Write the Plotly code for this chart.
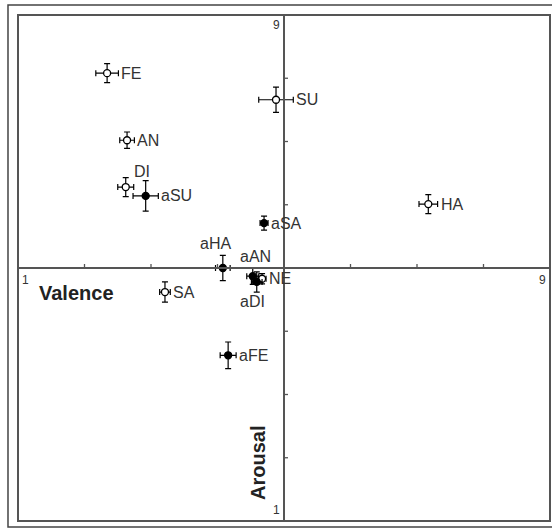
import plotly.graph_objects as go

# ---- data ----
names   = ['FE', 'SU', 'AN', 'DI', 'aSU', 'HA', 'aSA', 'aHA', 'aAN', 'NE', 'aDI', 'SA', 'aFE']
valence = [2.34, 4.88, 2.64, 2.62, 2.92, 7.17, 4.70, 4.08, 4.53, 4.67, 4.59, 3.21, 4.16]
arousal = [8.08, 7.66, 7.02, 6.28, 6.14, 6.01, 5.71, 5.00, 4.87, 4.83, 4.78, 4.62, 3.62]
err_val = [0.17, 0.26, 0.11, 0.12, 0.19, 0.14, 0.06, 0.11, 0.09, 0.06, 0.08, 0.08, 0.12]
err_aro = [0.15, 0.20, 0.13, 0.15, 0.24, 0.15, 0.11, 0.20, 0.13, 0.08, 0.16, 0.16, 0.21]
filled  = [False, False, False, False, True, False, True, True, True, False, True, False, True]
ticks   = [2, 3, 4, 6, 7, 8]

# label placement (style): default = to the right of the error bar
label_offsets = {'DI': (16, 16), 'aHA': (-7, 25), 'aAN': (3, 20), 'aDI': (-4, -20)}

FONT = 'Liberation Sans, Arial, sans-serif'
AX = '#555555'

fig = go.Figure()
for fill_flag in (False, True):
    idx = [i for i, f in enumerate(filled) if f == fill_flag]
    fig.add_trace(go.Scatter(
        x=[valence[i] for i in idx], y=[arousal[i] for i in idx],
        mode='markers',
        marker=dict(symbol='circle', size=7,
                    color='black' if fill_flag else 'white',
                    line=dict(color='black', width=1.3)),
        error_x=dict(type='data', array=[err_val[i] for i in idx], color='black',
                     thickness=1.2, width=3),
        error_y=dict(type='data', array=[err_aro[i] for i in idx], color='black',
                     thickness=1.2, width=3),
        showlegend=False, hoverinfo='skip'))

annotations = []
for i, n in enumerate(names):
    if n in label_offsets:
        dx, dy = label_offsets[n]
        annotations.append(dict(x=valence[i], y=arousal[i], xref='x', yref='y', text=n,
                                showarrow=False, xanchor='center', yanchor='middle',
                                xshift=dx, yshift=dy,
                                font=dict(family=FONT, size=16, color='#333')))
    else:
        annotations.append(dict(x=valence[i] + err_val[i], y=arousal[i], xref='x', yref='y',
                                text=n, showarrow=False, xanchor='left', yanchor='middle',
                                xshift=1, yshift=0,
                                font=dict(family=FONT, size=16, color='#333')))

tickfont = dict(family=FONT, size=12, color='#333')
annotations += [
    dict(x=5, y=9, xref='x', yref='y', text='9', showarrow=False, xanchor='right',
         yanchor='top', xshift=-2, yshift=-1, font=tickfont),
    dict(x=5, y=1, xref='x', yref='y', text='1', showarrow=False, xanchor='right',
         yanchor='bottom', xshift=-2, yshift=2, font=tickfont),
    dict(x=1, y=5, xref='x', yref='y', text='1', showarrow=False, xanchor='left',
         yanchor='top', xshift=2, yshift=-3, font=tickfont),
    dict(x=9, y=5, xref='x', yref='y', text='9', showarrow=False, xanchor='right',
         yanchor='top', xshift=-2, yshift=-3, font=tickfont),
    dict(x=1, y=5, xref='x', yref='y', text='<b>Valence</b>', showarrow=False,
         xanchor='left', yanchor='middle', xshift=19, yshift=-25,
         font=dict(family=FONT, size=20, color='#222')),
    dict(x=5, y=1, xref='x', yref='y', text='<b>Arousal</b>', showarrow=False,
         xanchor='center', yanchor='middle', xshift=-26, yshift=58, textangle=-90,
         font=dict(family=FONT, size=20, color='#222')),
]

shapes = [
    # outer frame
    dict(type='rect', xref='paper', yref='paper', x0=-0.0188, x1=1.02, y0=-0.0119, y1=1.0198,
         line=dict(color='#444', width=1.5), layer='below'),
    # inner frame
    dict(type='rect', xref='paper', yref='paper', x0=0, x1=1, y0=0, y1=1,
         line=dict(color=AX, width=2)),
    # cross axes
    dict(type='line', xref='x', yref='y', x0=5, x1=5, y0=1, y1=9, line=dict(color=AX, width=2)),
    dict(type='line', xref='x', yref='y', x0=1, x1=9, y0=5, y1=5, line=dict(color=AX, width=2)),
]
for t in ticks:
    shapes.append(dict(type='line', xref='x', yref='y', x0=t, x1=t, ysizemode='pixel',
                       yanchor=5, y0=0, y1=4, line=dict(color=AX, width=1.3)))
    shapes.append(dict(type='line', xref='x', yref='y', y0=t, y1=t, xsizemode='pixel',
                       xanchor=5, x0=0, x1=4, line=dict(color=AX, width=1.3)))

fig.update_layout(
    width=552, height=530,
    margin=dict(l=18, r=2, t=15, b=9),
    paper_bgcolor='white', plot_bgcolor='white',
    xaxis=dict(range=[1, 9], showgrid=False, zeroline=False, showline=False,
               showticklabels=False, ticks=''),
    yaxis=dict(range=[1, 9], showgrid=False, zeroline=False, showline=False,
               showticklabels=False, ticks=''),
    shapes=shapes, annotations=annotations,
)

fig.write_html('out.html', config={'displayModeBar': False},
               post_script="document.body.style.margin='0';document.body.style.overflow='hidden';")
